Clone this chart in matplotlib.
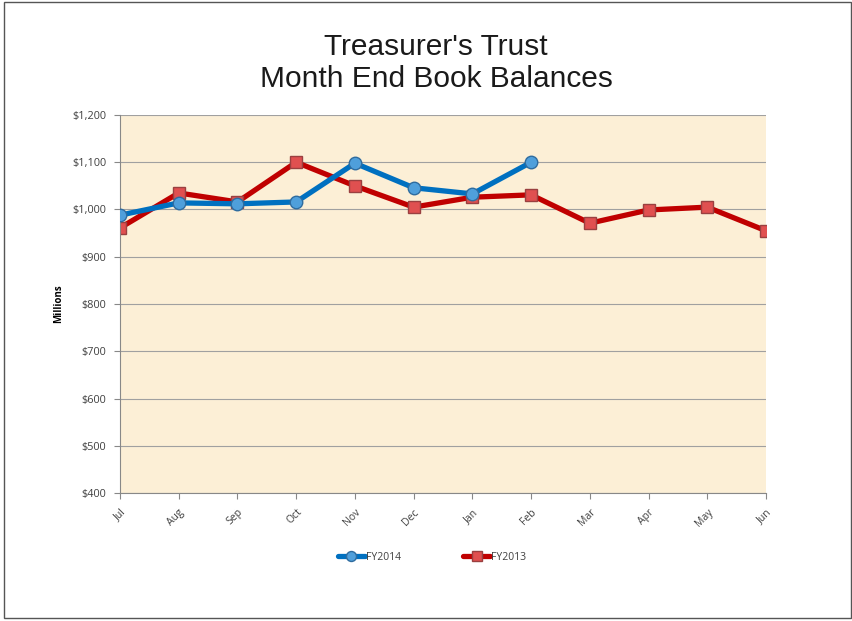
import matplotlib
matplotlib.use("Agg")
import matplotlib.pyplot as plt
from matplotlib.patches import Rectangle
from matplotlib.ticker import FuncFormatter

months = ["Jul", "Aug", "Sep", "Oct", "Nov", "Dec", "Jan", "Feb", "Mar", "Apr", "May", "Jun"]
fy2014 = [988, 1014, 1012, 1016, 1098, 1046, 1033, 1100]
fy2013 = [961, 1035, 1016, 1100, 1050, 1005, 1026, 1031, 971, 999, 1005, 955]

plt.rcParams['font.family'] = ['Open Sans', 'DejaVu Sans']

fig = plt.figure(figsize=(8.52, 6.21), dpi=100)
fig.patch.set_facecolor('white')
fig.add_artist(Rectangle((3.5/852, 1-617.5/621), 847/852, 616/621, transform=fig.transFigure,
                         fill=False, edgecolor='#555555', linewidth=1.0))

ax = fig.add_axes([120/852, 1-493/621, (766-120)/852, (493-115)/621])
ax.set_facecolor('#FCEFD6')

x14 = list(range(len(fy2014)))
x13 = list(range(len(fy2013)))
ax.plot(x14, fy2014, color='#0070C0', linewidth=3.8, marker='o', markersize=9,
        markerfacecolor='#4F9FDB', markeredgecolor='#2F6C9F', markeredgewidth=1.0,
        label='FY2014', zorder=3, solid_capstyle='round')
ax.plot(x13, fy2013, color='#C00000', linewidth=3.8, marker='s', markersize=9,
        markerfacecolor='#E05050', markeredgecolor='#9A4040', markeredgewidth=1.0,
        label='FY2013', zorder=2, solid_capstyle='round')

ax.set_xlim(0, 11)
ax.set_ylim(400, 1200)
ax.set_yticks(range(400, 1201, 100))
ax.yaxis.set_major_formatter(FuncFormatter(lambda v, p: "${:,.0f}".format(v)))
ax.set_xticks(range(12))
ax.set_xticklabels(months, rotation=45, ha='right', rotation_mode='anchor', fontsize=7.5, color='#404040')
ax.tick_params(axis='y', labelsize=7.8, labelcolor='#404040', length=4, color='#888888', pad=6)
ax.tick_params(axis='x', length=4, color='#888888', pad=6)
ax.grid(axis='y', color='#A0A0A0', linewidth=0.8)
ax.set_axisbelow(True)
for s in ['top', 'right']:
    ax.spines[s].set_visible(False)
for s in ['left', 'bottom']:
    ax.spines[s].set_color('#888888')
    ax.spines[s].set_linewidth(0.8)

ax.set_ylabel('Millions', fontsize=7, fontweight='bold', labelpad=6)

fig.text(436/852, 1-63/621, "Treasurer's Trust\nMonth End Book Balances", ha='center', va='center',
         fontsize=21.5, family=['Liberation Sans', 'DejaVu Sans'], linespacing=1.15, color='#1a1a1a')

leg = fig.legend(loc='center', bbox_to_anchor=(432/852, 1-557/621), ncol=2, frameon=False,
                 fontsize=7.5, handlelength=2.6, columnspacing=6, handletextpad=0.1, markerscale=0.8)
for t in leg.get_texts():
    t.set_color('#404040')

fig.savefig('out.png', dpi=100)
